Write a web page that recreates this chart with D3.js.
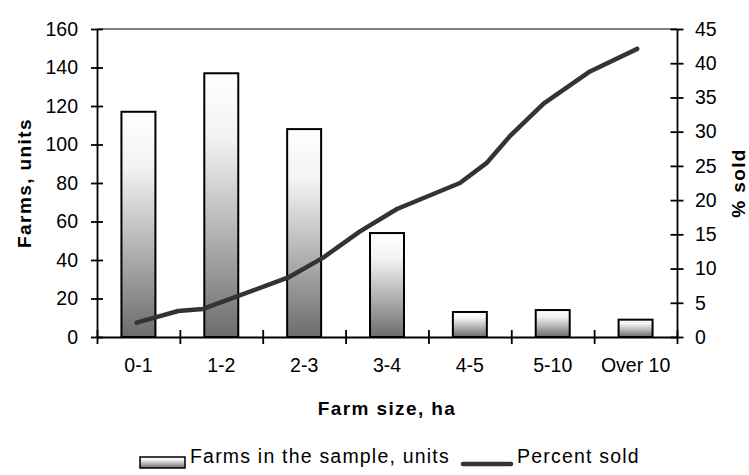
<!DOCTYPE html>
<html>
<head>
<meta charset="utf-8">
<script src="https://cdn.jsdelivr.net/npm/d3@7"></script>
<style>
  body { margin: 0; background: #fff; }
  text { font-family: "Liberation Sans", Arial, sans-serif; fill: #000; }
  .tick text { font-size: 19.5px; }
  .title { font-size: 19px; font-weight: bold; letter-spacing: 1.4px; }
  .legend { font-size: 19.5px; letter-spacing: 1.2px; }
</style>
</head>
<body>
<div id="chart"></div>
<script>
// farm size groups and number of farms in the sample
var sizes = ["0-1", "1-2", "2-3", "3-4", "4-5", "5-10", "Over 10"];
var farms = [117, 137, 108, 54, 13, 14, 9];

// percent sold line, x given in category units (0 = left edge of first group)
var soldPos = [0.48, 0.98, 1.28, 2.31, 2.73, 3.17, 3.62, 4.38, 4.70, 4.98, 5.39, 5.95, 6.52];
var soldPct = [2.1, 3.8, 4.1, 8.7, 11.6, 15.4, 18.7, 22.5, 25.4, 29.3, 34.1, 38.8, 42.1];

var leftTicks = [0, 20, 40, 60, 80, 100, 120, 140, 160];
var rightTicks = [0, 5, 10, 15, 20, 25, 30, 35, 40, 45];

var W = 749, H = 475;
var x0 = 97, x1 = 677, yTop = 29, yBot = 337;

var svg = d3.select("#chart").append("svg")
    .attr("width", W)
    .attr("height", H);

var defs = svg.append("defs");
var grad = defs.append("linearGradient")
    .attr("id", "barGrad")
    .attr("x1", 0).attr("y1", 0).attr("x2", 0).attr("y2", 1);
grad.append("stop").attr("offset", "0%").attr("stop-color", "#ffffff");
grad.append("stop").attr("offset", "25%").attr("stop-color", "#f2f2f2");
grad.append("stop").attr("offset", "60%").attr("stop-color", "#b4b4b4");
grad.append("stop").attr("offset", "100%").attr("stop-color", "#6c6c6c");

var x = d3.scaleBand().domain(sizes).range([x0, x1]).padding(0);
var xLin = d3.scaleLinear().domain([0, sizes.length]).range([x0, x1]);
var yL = d3.scaleLinear().domain([0, 160]).range([yBot, yTop]);
var yR = d3.scaleLinear().domain([0, 45]).range([yBot, yTop]);

// top border / gridline
svg.append("line")
    .attr("x1", x0).attr("x2", x1)
    .attr("y1", yL(160)).attr("y2", yL(160))
    .attr("stroke", "#808080")
    .attr("stroke-width", 2);

// bars
var barW = x.bandwidth() * 0.41;
svg.selectAll(".bar")
    .data(farms)
    .enter().append("rect")
    .attr("class", "bar")
    .attr("x", function(d, i) { return x(sizes[i]) + (x.bandwidth() - barW) / 2; })
    .attr("y", function(d) { return yL(d); })
    .attr("width", barW)
    .attr("height", function(d) { return yL(0) - yL(d); })
    .attr("fill", "url(#barGrad)")
    .attr("stroke", "#000")
    .attr("stroke-width", 2);

// line
var pts = soldPos.map(function(p, i) { return [p, soldPct[i]]; });
var line = d3.line()
    .x(function(d) { return xLin(d[0]); })
    .y(function(d) { return yR(d[1]); });
svg.append("path")
    .datum(pts)
    .attr("d", line)
    .attr("fill", "none")
    .attr("stroke", "#333333")
    .attr("stroke-width", 4.5)
    .attr("stroke-linecap", "round")
    .attr("stroke-linejoin", "round");

// axes
var leftAxis = svg.append("g")
    .attr("transform", "translate(" + x0 + ",0)")
    .call(d3.axisLeft(yL).tickValues(leftTicks).tickSize(6).tickPadding(13).tickSizeOuter(0));
leftAxis.selectAll(".tick line").attr("x1", 6).attr("x2", -6);

var rightAxis = svg.append("g")
    .attr("transform", "translate(" + x1 + ",0)")
    .call(d3.axisRight(yR).tickValues(rightTicks).tickSize(6).tickPadding(12).tickSizeOuter(0));
rightAxis.selectAll(".tick line").attr("x1", -6.5).attr("x2", 6.5);

var bottomAxis = svg.append("g")
    .attr("transform", "translate(0," + yBot + ")")
    .call(d3.axisBottom(xLin).tickValues(d3.range(sizes.length + 1)).tickFormat("").tickSizeOuter(0));
bottomAxis.selectAll(".tick line").attr("y1", -7).attr("y2", 7);

var labels = svg.append("g")
    .attr("transform", "translate(0," + yBot + ")")
    .call(d3.axisBottom(x).tickSize(0).tickPadding(21));
labels.select(".domain").remove();

svg.selectAll(".domain, .tick line")
    .attr("stroke", "#000")
    .attr("stroke-width", 1.8);
svg.selectAll(".tick text").attr("fill", "#000");

// titles
svg.append("text")
    .attr("class", "title")
    .attr("x", (x0 + x1) / 2)
    .attr("y", 415)
    .attr("text-anchor", "middle")
    .text("Farm size, ha");

svg.append("text")
    .attr("class", "title")
    .attr("transform", "translate(31," + (yTop + yBot) / 2 + ") rotate(-90)")
    .attr("text-anchor", "middle")
    .text("Farms, units");

svg.append("text")
    .attr("class", "title")
    .attr("transform", "translate(745," + (yTop + yBot) / 2 + ") rotate(-90)")
    .attr("text-anchor", "middle")
    .text("% sold");

// legend
var lg = svg.append("g");
lg.append("rect")
    .attr("x", 140).attr("y", 457)
    .attr("width", 45).attr("height", 11)
    .attr("fill", "url(#barGrad)")
    .attr("stroke", "#000")
    .attr("stroke-width", 1.5);
lg.append("text")
    .attr("class", "legend")
    .attr("x", 190).attr("y", 463)
    .text("Farms in the sample, units");
lg.append("line")
    .attr("x1", 463).attr("x2", 511)
    .attr("y1", 464).attr("y2", 464)
    .attr("stroke", "#333333")
    .attr("stroke-width", 4.5)
    .attr("stroke-linecap", "round");
lg.append("text")
    .attr("class", "legend")
    .attr("x", 517).attr("y", 463)
    .text("Percent sold");
</script>
</body>
</html>
